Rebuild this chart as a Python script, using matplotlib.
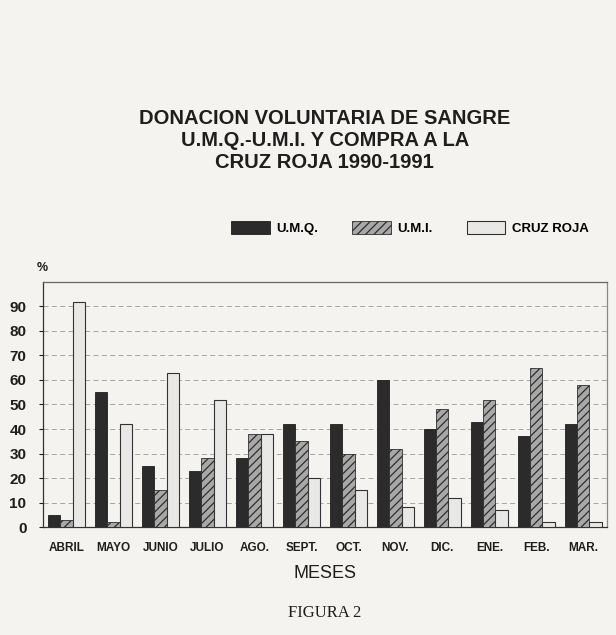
import matplotlib.pyplot as plt
import numpy as np

meses = ["ABRIL", "MAYO", "JUNIO", "JULIO", "AGO.", "SEPT.", "OCT.",
         "NOV.", "DIC.", "ENE.", "FEB.", "MAR."]
umq = [5, 55, 25, 23, 28, 42, 42, 60, 40, 43, 37, 42]
umi = [3, 2, 15, 28, 38, 35, 30, 32, 48, 52, 65, 58]
cruz_roja = [92, 42, 63, 52, 38, 20, 15, 8, 12, 7, 2, 2]
yticks = [0, 10, 20, 30, 40, 50, 60, 70, 80, 90]

plt.rcParams['font.family'] = ['Liberation Sans', 'DejaVu Sans']
plt.rcParams['hatch.linewidth'] = 0.9

paper = "#f4f3ef"
ink = "#1e1e1e"
fig = plt.figure(figsize=(6.16, 6.35), dpi=100, facecolor=paper)
ax = fig.add_axes([0.070, 0.170, 0.915, 0.386], facecolor=paper)

x = np.arange(len(meses))
w = 0.26
ax.bar(x - w, umq, w, color="#2b2b2b", edgecolor="#1e1e1e", linewidth=0.6,
       label="U.M.Q.", zorder=3)
ax.bar(x, umi, w, color="#a8a8a8", edgecolor="#2e2e2e", linewidth=0.6,
       hatch="////", label="U.M.I.", zorder=3)
ax.bar(x + w, cruz_roja, w, color="#e8e8e6", edgecolor="#333333", linewidth=0.8,
       label="CRUZ ROJA", zorder=3)

ax.set_xlim(-0.5, len(meses) - 0.5)
ax.set_ylim(0, 100)
ax.set_yticks(yticks)
ax.set_yticklabels([str(v) for v in yticks], fontsize=11, fontweight="bold",
                   color=ink)
ax.set_xticks(x)
ax.set_xticklabels(meses, fontsize=8.5, fontweight="bold", color=ink)
ax.tick_params(axis="x", length=0, pad=11)
ax.tick_params(axis="y", length=3, width=0.8, pad=9, colors=ink)
ax.yaxis.grid(True, color="#999999", linestyle=(0, (6, 4)), linewidth=0.6, zorder=0)
for s in ax.spines.values():
    s.set_color("#333333")
    s.set_linewidth(0.9)
ax.spines["right"].set_color("#888888")
ax.spines["top"].set_color("#666666")

ax.set_xlabel("MESES", fontsize=13, color=ink, labelpad=8)
fig.text(0.068, 0.578, "%", fontsize=9, fontweight="bold", color=ink,
         ha="center", va="center")

title = ["DONACION VOLUNTARIA DE SANGRE", "U.M.Q.-U.M.I. Y COMPRA A LA",
         "CRUZ ROJA 1990-1991"]
for i, line in enumerate(title):
    fig.text(0.527, 0.814 - 0.035 * i, line, fontsize=14.5, fontweight="bold",
             color=ink, ha="center", va="center")

fig.legend(loc="center right", bbox_to_anchor=(0.975, 0.641), ncol=3,
           frameon=False, prop={"size": 9.5, "weight": "bold"},
           handlelength=2.9, handleheight=1.2,
           columnspacing=2.6, handletextpad=0.5)

fig.text(0.527, 0.034, "FIGURA 2", fontsize=12, family="Liberation Serif",
         color=ink, ha="center", va="center")

fig.savefig("out.png", dpi=100, facecolor=paper)
